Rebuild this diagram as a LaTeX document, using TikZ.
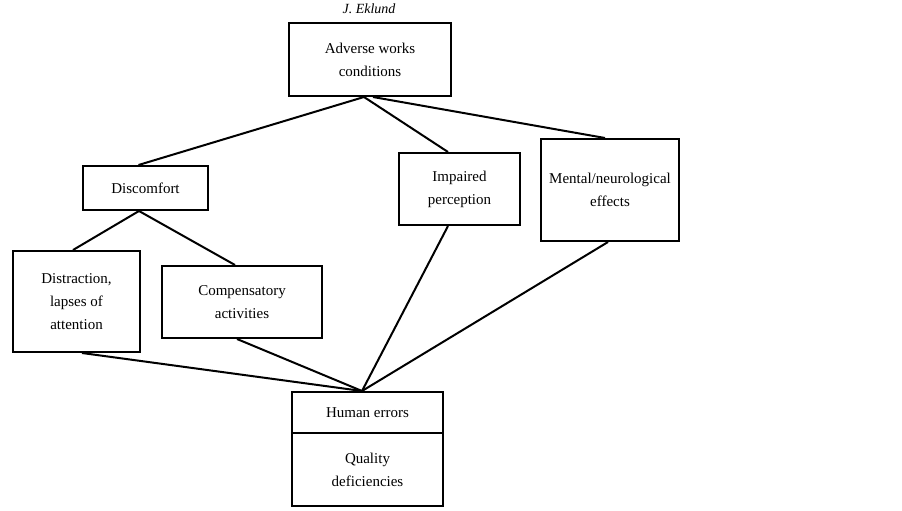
\documentclass[tikz,border=0pt]{standalone}
\usepackage{fontspec}
\setmainfont{Liberation Serif}
\usepackage{tikz}

\tikzset{
  factor/.style = {draw, line width = 2pt, inner sep = 0pt, align = center,
    font = \fontsize{15}{23}\selectfont},
  link/.style = {line width = 2pt}
}

\begin{document}
\begin{tikzpicture}[x = 1pt, y = -1pt]
\useasboundingbox (0, 0) rectangle (902, 511);
\node (author) at (369, 9) {\fontsize{14}{16}\selectfont\itshape J. Eklund};
\node (adverse) at (370, 59.5) [factor, minimum width = 162, minimum height = 73]
  {Adverse works\\conditions};
\node (discomfort) at (145.5, 188) [factor, minimum width = 125, minimum height = 44]
  {Discomfort};
\node (impaired) at (459.5, 189) [factor, minimum width = 121, minimum height = 72]
  {Impaired\\perception};
\node (mental) at (610, 190) [factor, minimum width = 138, minimum height = 102]
  {Mental/neurological\\effects};
\node (distraction) at (76.5, 301.5) [factor, minimum width = 127, minimum height = 101]
  {Distraction,\\lapses of\\attention};
\node (compensatory) at (242, 302) [factor, minimum width = 160, minimum height = 72]
  {Compensatory\\activities};
\node (errors) at (367.5, 412.5) [factor, minimum width = 151, minimum height = 41]
  {Human errors};
\node (quality) at (367.5, 469.5) [factor, minimum width = 151, minimum height = 73]
  {Quality\\deficiencies};
% causes
\draw [link] ([xshift = -6]adverse.south) to ([xshift = -7]discomfort.north);
\draw [link] ([xshift = -6]adverse.south) to ([xshift = -11.5]impaired.north);
\draw [link] ([xshift = 3]adverse.south) to ([xshift = -5]mental.north);
\draw [link] ([xshift = -6.5]discomfort.south) to ([xshift = -3.5]distraction.north);
\draw [link] ([xshift = -6.5]discomfort.south) to ([xshift = -7]compensatory.north);
% effects
\draw [link] ([xshift = 5.5]distraction.south) to ([xshift = -5.5]errors.north);
\draw [link] ([xshift = -5]compensatory.south) to ([xshift = -5.5]errors.north);
\draw [link] ([xshift = -11.5]impaired.south) to ([xshift = -5.5]errors.north);
\draw [link] ([xshift = -2]mental.south) to ([xshift = -5.5]errors.north);
\end{tikzpicture}
\end{document}
